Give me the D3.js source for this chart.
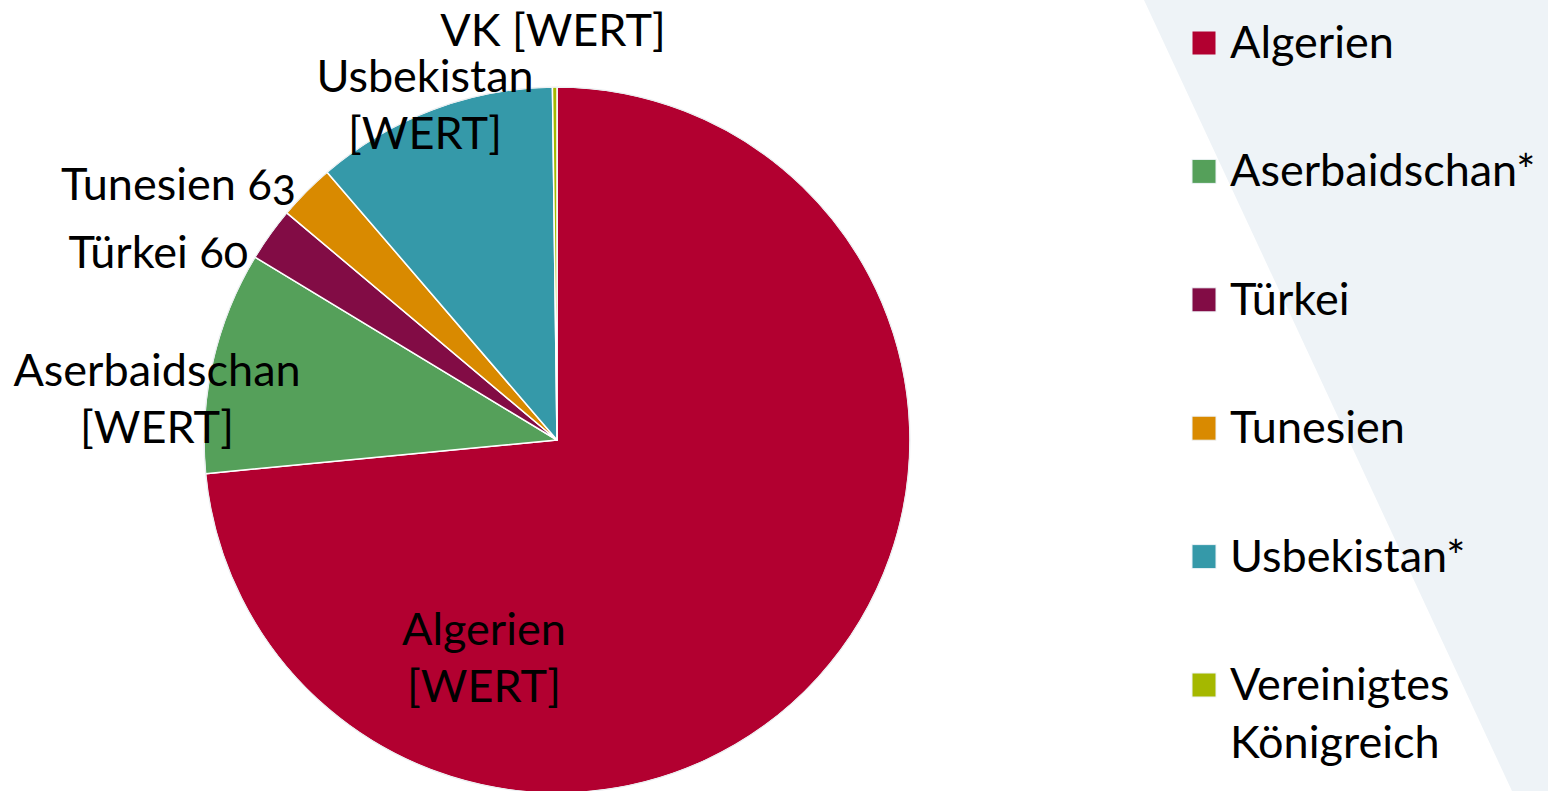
<!DOCTYPE html>
<html><head><meta charset="utf-8">
<script src="https://cdn.jsdelivr.net/npm/d3@7"></script>
<style>
html,body{margin:0;padding:0;background:#fff;}
svg{display:block;font-family:Lato,"Open Sans",sans-serif;}
text{font-variant-numeric:oldstyle-nums;font-feature-settings:"onum" 1;}
</style></head><body>
<svg id="chart" width="1548" height="791"></svg>
<script>
const categories = ["Algerien","Aserbaidschan","Türkei","Tunesien","Usbekistan","Vereinigtes Königreich"];
const legendLabels = [["Algerien"],["Aserbaidschan*"],["Türkei"],["Tunesien"],["Usbekistan*"],["Vereinigtes","Königreich"]];
const values = [1790, 248, 60, 63, 270, 5];
const dataLabels = [["Algerien","[WERT]"],["Aserbaidschan","[WERT]"],["Türkei 60"],["Tunesien 63"],["Usbekistan","[WERT]"],["VK [WERT]"]];
const colors = ["#b20030","#55a05a","#820c45","#d98a00","#3599a9","#a5b800"];

// label layout (pixel anchors)
const labelLayout = [
  {x:484, y:645, anchor:"middle"},
  {x:157, y:386, anchor:"middle"},
  {x:248, y:268, anchor:"end"},
  {x:296, y:200, anchor:"end"},
  {x:425, y:92, anchor:"middle"},
  {x:553, y:46, anchor:"middle"}
];

const svg = d3.select("#chart");
const W = 1548, H = 791;
const fontSize = 45;

// background diagonal band
svg.append("path")
  .attr("d", `M1144,0 L${W},0 L${W},${H} L1512,${H} Z`)
  .attr("fill", "#eef3f7");

const cx = 557, cy = 440, R = 353;
const pie = d3.pie().sort(null).value(d => d);
const arcs = pie(values);
const arc = d3.arc().innerRadius(0).outerRadius(R);

const g = svg.append("g").attr("transform", `translate(${cx},${cy})`);
g.selectAll("path.slice").data(arcs).join("path")
  .attr("class","slice")
  .attr("d", arc)
  .attr("fill", (d,i) => colors[i])
  .attr("stroke", "#ffffff")
  .attr("stroke-width", 1.5)
  .attr("stroke-linejoin","round");
g.append("circle").attr("r", R).attr("fill","none").attr("stroke","#e8ecef").attr("stroke-width",1);

// data labels
const lineH = 57;
dataLabels.forEach((lines, i) => {
  const L = labelLayout[i];
  const t = svg.append("text")
    .attr("x", L.x).attr("y", L.y)
    .attr("text-anchor", L.anchor)
    .attr("font-size", fontSize)
    .attr("fill", "#000");
  lines.forEach((s, k) => {
    t.append("tspan").attr("x", L.x).attr("dy", k === 0 ? 0 : lineH).text(s);
  });
});

// legend
const legendY = d3.scalePoint().domain(d3.range(categories.length)).range([43, 685]);
const lg = svg.append("g");
categories.forEach((c, i) => {
  const y = legendY(i);
  lg.append("rect").attr("x", 1192).attr("y", y - 12).attr("width", 24).attr("height", 24)
    .attr("fill", colors[i]).attr("stroke", "#eef3f7").attr("stroke-width", 1);
  const t = lg.append("text").attr("x", 1230).attr("y", y + 15)
    .attr("font-size", fontSize).attr("fill", "#000");
  legendLabels[i].forEach((s, k) => {
    t.append("tspan").attr("x", 1230).attr("dy", k === 0 ? 0 : 58).text(s);
  });
});
</script>
</body></html>
